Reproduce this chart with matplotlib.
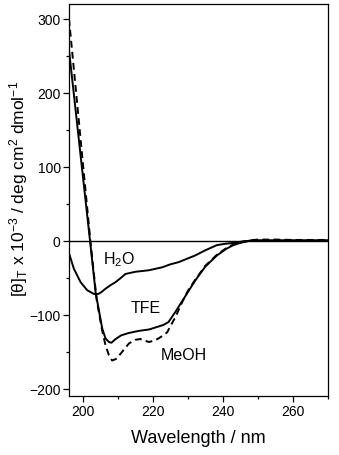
import matplotlib
matplotlib.use("Agg")
import matplotlib.pyplot as plt
from matplotlib.ticker import MultipleLocator

plt.rcParams['font.family'] = ['Liberation Sans', 'DejaVu Sans']
plt.rcParams['mathtext.fontset'] = 'custom'
plt.rcParams['mathtext.rm'] = 'Liberation Sans'
plt.rcParams['mathtext.it'] = 'Liberation Sans'

# TFE (solid)
tfe_wl = [196.1, 198, 200, 202.1, 203.7, 205.6, 206.5, 207.5, 208.2, 209.4, 211, 213,
          216, 219, 221, 223, 224.5, 226.5, 229.3, 232.1, 235, 238.3, 241, 243, 245,
          247.8, 250, 255, 260, 265, 270]
tfe_val = [258, 176, 90, 0, -70, -119, -132, -137, -138, -133, -128, -125,
           -122, -120, -117, -114, -110, -96, -75, -54, -35, -20, -11, -6, -3,
           0, 0.5, 0.5, 0.5, 0.5, 0.5]

# MeOH (dashed)
meoh_wl = [196.1, 198, 200, 202.2, 204, 205.5, 206.5, 207.5, 208.4, 209.5, 210.8, 212,
           213.2, 215, 216.5, 218.9, 220.5, 221.7, 223, 224.1, 225, 226.5, 228.4, 230,
           232.1, 235, 238.3, 241, 243, 245, 247.8, 250, 255, 260, 265, 270]
meoh_val = [300, 207, 108, 0, -80, -120, -141, -155, -162, -160, -153, -146,
            -139, -134, -133, -137, -135, -132, -128, -124, -116, -103, -83, -68,
            -53, -34, -19, -10, -5, -2, 0.5, 1.5, 1.5, 1, 1, 1]

# H2O (solid)
h2o_wl = [196.1, 197.5, 199.4, 201.3, 203.2, 204.5, 205.5, 206.5, 208, 209.4, 211,
          212.2, 215.1, 218.9, 222.7, 225, 227.4, 230, 232.1, 235, 238.3, 241, 243,
          245, 247.8, 250, 255, 260, 265, 270]
h2o_val = [-17, -38, -56, -67, -72, -72, -69, -65, -60, -56, -50,
           -45, -42, -40, -36, -32, -29, -24, -20, -13, -6, -4, -3,
           -1.5, 0, 0, 0, 0, 0, 0]

fig = plt.figure(figsize=(3.39, 4.56), dpi=100)
ax = fig.add_axes([0.2035, 0.1294, 0.764, 0.8596])

ax.axhline(0, color='black', lw=1.0)
ax.plot(tfe_wl, tfe_val, color='black', lw=1.4)
ax.plot(h2o_wl, h2o_val, color='black', lw=1.4)
ax.plot(meoh_wl, meoh_val, color='black', lw=1.4, dashes=(3.5, 2.2))

ax.set_xlim(196.1, 270)
ax.set_ylim(-210, 320)
ax.xaxis.set_major_locator(MultipleLocator(20))
ax.xaxis.set_minor_locator(MultipleLocator(10))
ax.yaxis.set_major_locator(MultipleLocator(100))
ax.yaxis.set_minor_locator(MultipleLocator(50))
ax.tick_params(which='major', direction='out', length=4, width=0.9, labelsize=10, pad=2)
ax.tick_params(which='minor', direction='out', length=2.5, width=0.9)
for s in ax.spines.values():
    s.set_linewidth(0.9)

ax.text(210.3, -24, r'H$_2$O', fontsize=11.5, ha='center', va='center')
ax.text(217.9, -91, 'TFE', fontsize=11.5, ha='center', va='center')
ax.text(229, -154, 'MeOH', fontsize=11.5, ha='center', va='center')

ax.set_xlabel('Wavelength / nm', fontsize=13, labelpad=8)
ax.set_ylabel(r'[$\theta$]$_\mathregular{T}$ x 10$^{-3}$ / deg cm$^2$ dmol$^{-1}$', fontsize=12.5)
ax.yaxis.set_label_coords(-0.152, 0.53)

fig.savefig('out.png', dpi=100)
